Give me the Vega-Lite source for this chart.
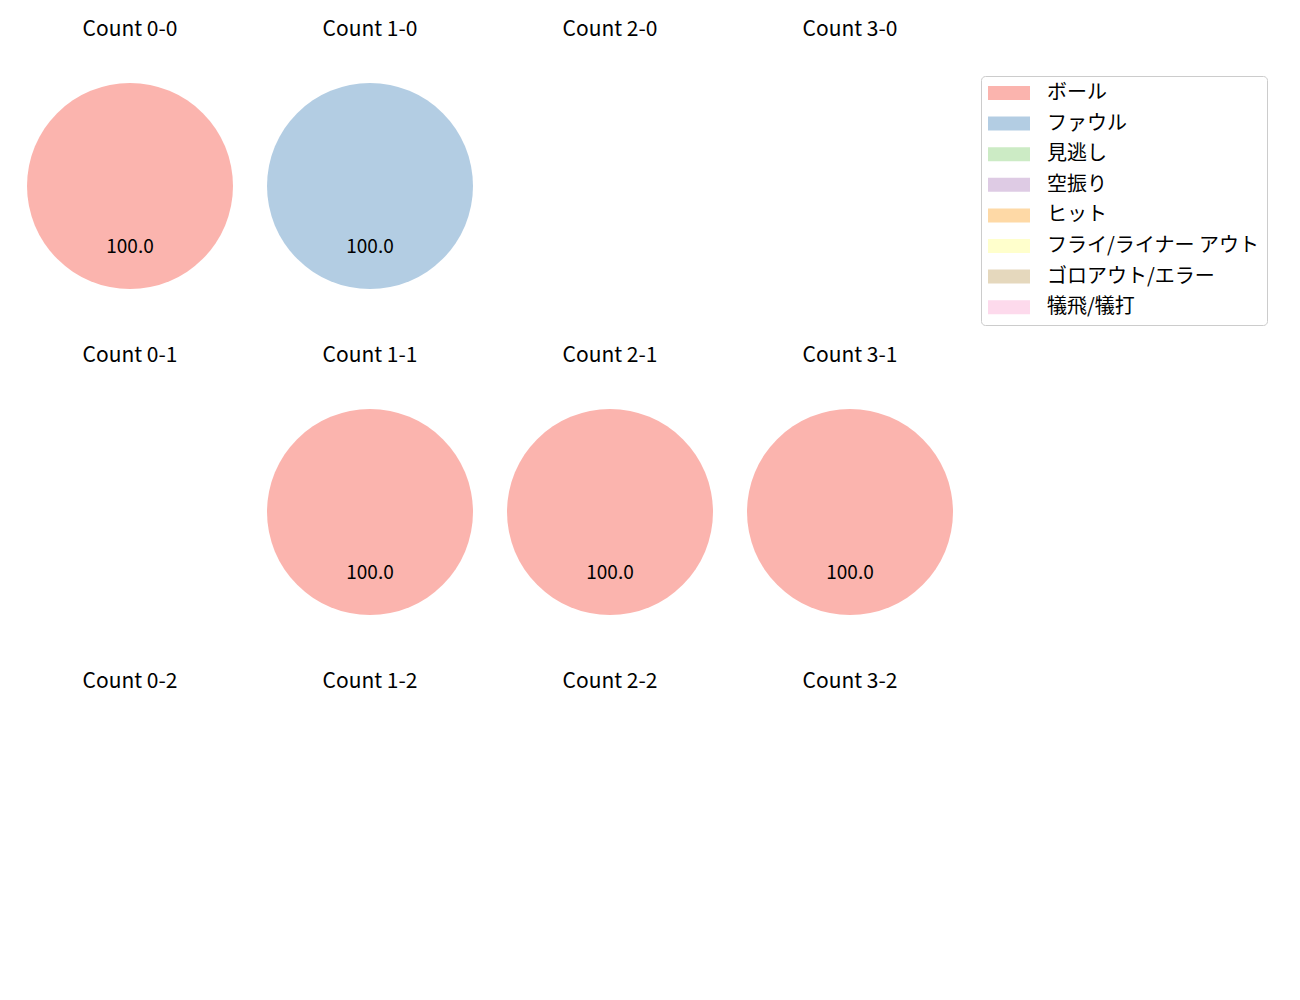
{
  "$schema": "https://vega.github.io/schema/vega-lite/v6.json",
  "padding": {"left": 10, "top": 19, "right": 0, "bottom": 0},
  "autosize": {"type": "pad"},
  "data": {"values": [
    {"count": "0-0", "result": "ボール", "pct": 100},
    {"count": "1-0", "result": "ファウル", "pct": 100},
    {"count": "1-1", "result": "ボール", "pct": 100},
    {"count": "2-1", "result": "ボール", "pct": 100},
    {"count": "3-1", "result": "ボール", "pct": 100}
  ]},
  "config": {
    "font": "Noto Sans CJK JP",
    "view": {"stroke": null},
    "title": {"fontSize": 21, "fontWeight": "normal", "offset": 36, "color": "black"},
    "concat": {"spacing": 0}
  },
  "vconcat": [
    {"spacing": 0, "hconcat": [
      {"title": "Count 0-0", "width": 240, "height": 220, "transform": [{"filter": "datum.count === '0-0'"}],
       "encoding": {"theta": {"field": "pct", "type": "quantitative", "stack": true},
         "color": {"field": "result", "type": "nominal",
           "scale": {"domain": ["ボール", "ファウル", "見逃し", "空振り", "ヒット", "フライ/ライナー アウト", "ゴロアウト/エラー", "犠飛/犠打"],
                     "range": ["#fbb4ae", "#b3cde3", "#ccebc5", "#decbe4", "#fed9a6", "#ffffcc", "#e5d8bd", "#fddaec"]},
           "legend": {"title": null, "orient": "none", "legendX": 971, "legendY": 0,
             "symbolType": "M-1,-0.7L3.2,-0.7L3.2,0.7L-1,0.7Z", "symbolSize": 400, "symbolStrokeWidth": 0,
             "labelFontSize": 20, "labelOffset": 39, "labelLimit": 400, "rowPadding": 10.6, "padding": 7,
             "strokeColor": "#cccccc", "cornerRadius": 4, "fillColor": "white", "labelColor": "black"}}},
       "layer": [
         {"mark": {"type": "arc", "outerRadius": 103}},
         {"mark": {"type": "text", "radius": 61, "fontSize": 19}, "encoding": {"text": {"field": "pct", "type": "quantitative", "format": ".1f"}, "color": {"value": "black"}}}
       ]},
      {"title": "Count 1-0", "width": 240, "height": 220, "transform": [{"filter": "datum.count === '1-0'"}],
       "encoding": {"theta": {"field": "pct", "type": "quantitative", "stack": true},
         "color": {"field": "result", "type": "nominal"}},
       "layer": [
         {"mark": {"type": "arc", "outerRadius": 103}},
         {"mark": {"type": "text", "radius": 61, "fontSize": 19}, "encoding": {"text": {"field": "pct", "type": "quantitative", "format": ".1f"}, "color": {"value": "black"}}}
       ]},
      {"title": "Count 2-0", "width": 240, "height": 220, "transform": [{"filter": "datum.count === '2-0'"}],
       "encoding": {"theta": {"field": "pct", "type": "quantitative", "stack": true},
         "color": {"field": "result", "type": "nominal"}},
       "layer": [
         {"mark": {"type": "arc", "outerRadius": 103}}
       ]},
      {"title": "Count 3-0", "width": 240, "height": 220, "transform": [{"filter": "datum.count === '3-0'"}],
       "encoding": {"theta": {"field": "pct", "type": "quantitative", "stack": true},
         "color": {"field": "result", "type": "nominal"}},
       "layer": [
         {"mark": {"type": "arc", "outerRadius": 103}}
       ]}
    ]},
    {"spacing": 0, "hconcat": [
      {"title": "Count 0-1", "width": 240, "height": 220, "transform": [{"filter": "datum.count === '0-1'"}],
       "encoding": {"theta": {"field": "pct", "type": "quantitative", "stack": true},
         "color": {"field": "result", "type": "nominal"}},
       "layer": [
         {"mark": {"type": "arc", "outerRadius": 103}}
       ]},
      {"title": "Count 1-1", "width": 240, "height": 220, "transform": [{"filter": "datum.count === '1-1'"}],
       "encoding": {"theta": {"field": "pct", "type": "quantitative", "stack": true},
         "color": {"field": "result", "type": "nominal"}},
       "layer": [
         {"mark": {"type": "arc", "outerRadius": 103}},
         {"mark": {"type": "text", "radius": 61, "fontSize": 19}, "encoding": {"text": {"field": "pct", "type": "quantitative", "format": ".1f"}, "color": {"value": "black"}}}
       ]},
      {"title": "Count 2-1", "width": 240, "height": 220, "transform": [{"filter": "datum.count === '2-1'"}],
       "encoding": {"theta": {"field": "pct", "type": "quantitative", "stack": true},
         "color": {"field": "result", "type": "nominal"}},
       "layer": [
         {"mark": {"type": "arc", "outerRadius": 103}},
         {"mark": {"type": "text", "radius": 61, "fontSize": 19}, "encoding": {"text": {"field": "pct", "type": "quantitative", "format": ".1f"}, "color": {"value": "black"}}}
       ]},
      {"title": "Count 3-1", "width": 240, "height": 220, "transform": [{"filter": "datum.count === '3-1'"}],
       "encoding": {"theta": {"field": "pct", "type": "quantitative", "stack": true},
         "color": {"field": "result", "type": "nominal"}},
       "layer": [
         {"mark": {"type": "arc", "outerRadius": 103}},
         {"mark": {"type": "text", "radius": 61, "fontSize": 19}, "encoding": {"text": {"field": "pct", "type": "quantitative", "format": ".1f"}, "color": {"value": "black"}}}
       ]}
    ]},
    {"spacing": 0, "hconcat": [
      {"title": "Count 0-2", "width": 240, "height": 220, "transform": [{"filter": "datum.count === '0-2'"}],
       "encoding": {"theta": {"field": "pct", "type": "quantitative", "stack": true},
         "color": {"field": "result", "type": "nominal"}},
       "layer": [
         {"mark": {"type": "arc", "outerRadius": 103}}
       ]},
      {"title": "Count 1-2", "width": 240, "height": 220, "transform": [{"filter": "datum.count === '1-2'"}],
       "encoding": {"theta": {"field": "pct", "type": "quantitative", "stack": true},
         "color": {"field": "result", "type": "nominal"}},
       "layer": [
         {"mark": {"type": "arc", "outerRadius": 103}}
       ]},
      {"title": "Count 2-2", "width": 240, "height": 220, "transform": [{"filter": "datum.count === '2-2'"}],
       "encoding": {"theta": {"field": "pct", "type": "quantitative", "stack": true},
         "color": {"field": "result", "type": "nominal"}},
       "layer": [
         {"mark": {"type": "arc", "outerRadius": 103}}
       ]},
      {"title": "Count 3-2", "width": 240, "height": 220, "transform": [{"filter": "datum.count === '3-2'"}],
       "encoding": {"theta": {"field": "pct", "type": "quantitative", "stack": true},
         "color": {"field": "result", "type": "nominal"}},
       "layer": [
         {"mark": {"type": "arc", "outerRadius": 103}}
       ]}
    ]}
  ],
  "spacing": 49
}
